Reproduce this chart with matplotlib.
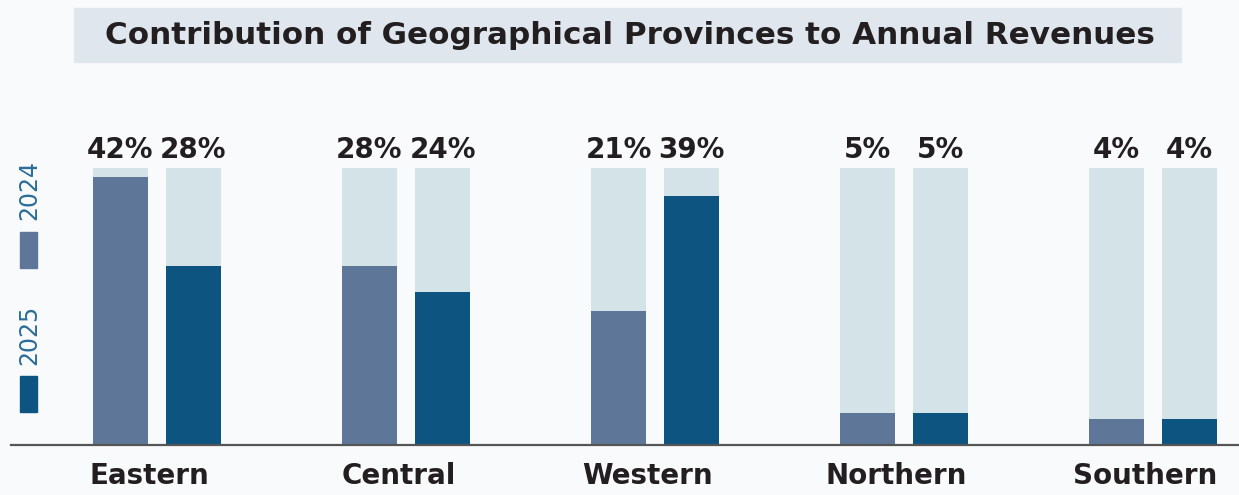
import matplotlib.pyplot as plt
from matplotlib.patches import Rectangle
import numpy as np

# datos del grafico
provinces = ["Eastern", "Central", "Western", "Northern", "Southern"]
rev_2024 = [42, 28, 21, 5, 4]
rev_2025 = [28, 24, 39, 5, 4]
scale_max = 43.4  # altura de las barras de fondo

c_2024 = "#5e7799"
c_2025 = "#0d5580"
c_bg = "#d3e3e7"
c_legend = "#2a6d98"

fig = plt.figure(figsize=(12.39, 4.95), dpi=100)
fig.patch.set_facecolor("#f8fafc")

ax = fig.add_axes([11 / 1239, 50 / 495, 1228 / 1239, 315 / 495])
ax.set_facecolor("none")

x = np.arange(len(provinces))
w = 55 / 249
off = 36.5 / 249

# barras de fondo
ax.bar(x - off, [scale_max] * len(x), width=w, color=c_bg, zorder=1)
ax.bar(x + off, [scale_max] * len(x), width=w, color=c_bg, zorder=1)
# barras de valores
ax.bar(x - off, rev_2024, width=w, color=c_2024, zorder=2)
ax.bar(x + off, rev_2025, width=w, color=c_2025, zorder=2)

for i in range(len(x)):
    ax.text(x[i] - off, scale_max + 0.6, f"{rev_2024[i]}%", ha="center", va="bottom",
            fontsize=20, fontweight="bold", color="#231f20")
    ax.text(x[i] + off, scale_max + 0.6, f"{rev_2025[i]}%", ha="center", va="bottom",
            fontsize=20, fontweight="bold", color="#231f20")

ax.set_xlim((11 - 157) / 249, (1239 - 157) / 249)
ax.set_ylim(0, scale_max * 315 / 277)
ax.set_xticks(x - 0.03)
ax.set_xticklabels(provinces, fontsize=20, fontweight="bold", color="#231f20")
ax.tick_params(axis="x", length=0, pad=12)
ax.set_yticks([])
for s in ["top", "right", "left"]:
    ax.spines[s].set_visible(False)
ax.spines["bottom"].set_color("#555555")
ax.spines["bottom"].set_linewidth(1.6)
ax.spines["bottom"].set_zorder(3)

# caja del titulo
fig.patches.append(Rectangle((74 / 1239, 1 - 62 / 495), 1107 / 1239, 54 / 495,
                             transform=fig.transFigure, color="#dfe6ed", zorder=0))
fig.text(630 / 1239, 1 - 35 / 495, "Contribution of Geographical Provinces to Annual Revenues",
         ha="center", va="center", fontsize=22.3, fontweight="bold", color="#231f20")

# leyenda vertical
fig.patches.append(Rectangle((20 / 1239, 1 - 268 / 495), 17 / 1239, 36 / 495,
                             transform=fig.transFigure, color=c_2024))
fig.patches.append(Rectangle((20 / 1239, 1 - 412 / 495), 17 / 1239, 36 / 495,
                             transform=fig.transFigure, color=c_2025))
fig.text(29 / 1239, 1 - 190 / 495, "2024", rotation=90, ha="center", va="center",
         fontsize=17, color=c_legend)
fig.text(29 / 1239, 1 - 335 / 495, "2025", rotation=90, ha="center", va="center",
         fontsize=17, color=c_legend)

fig.savefig("out.png", dpi=100, facecolor=fig.get_facecolor())
